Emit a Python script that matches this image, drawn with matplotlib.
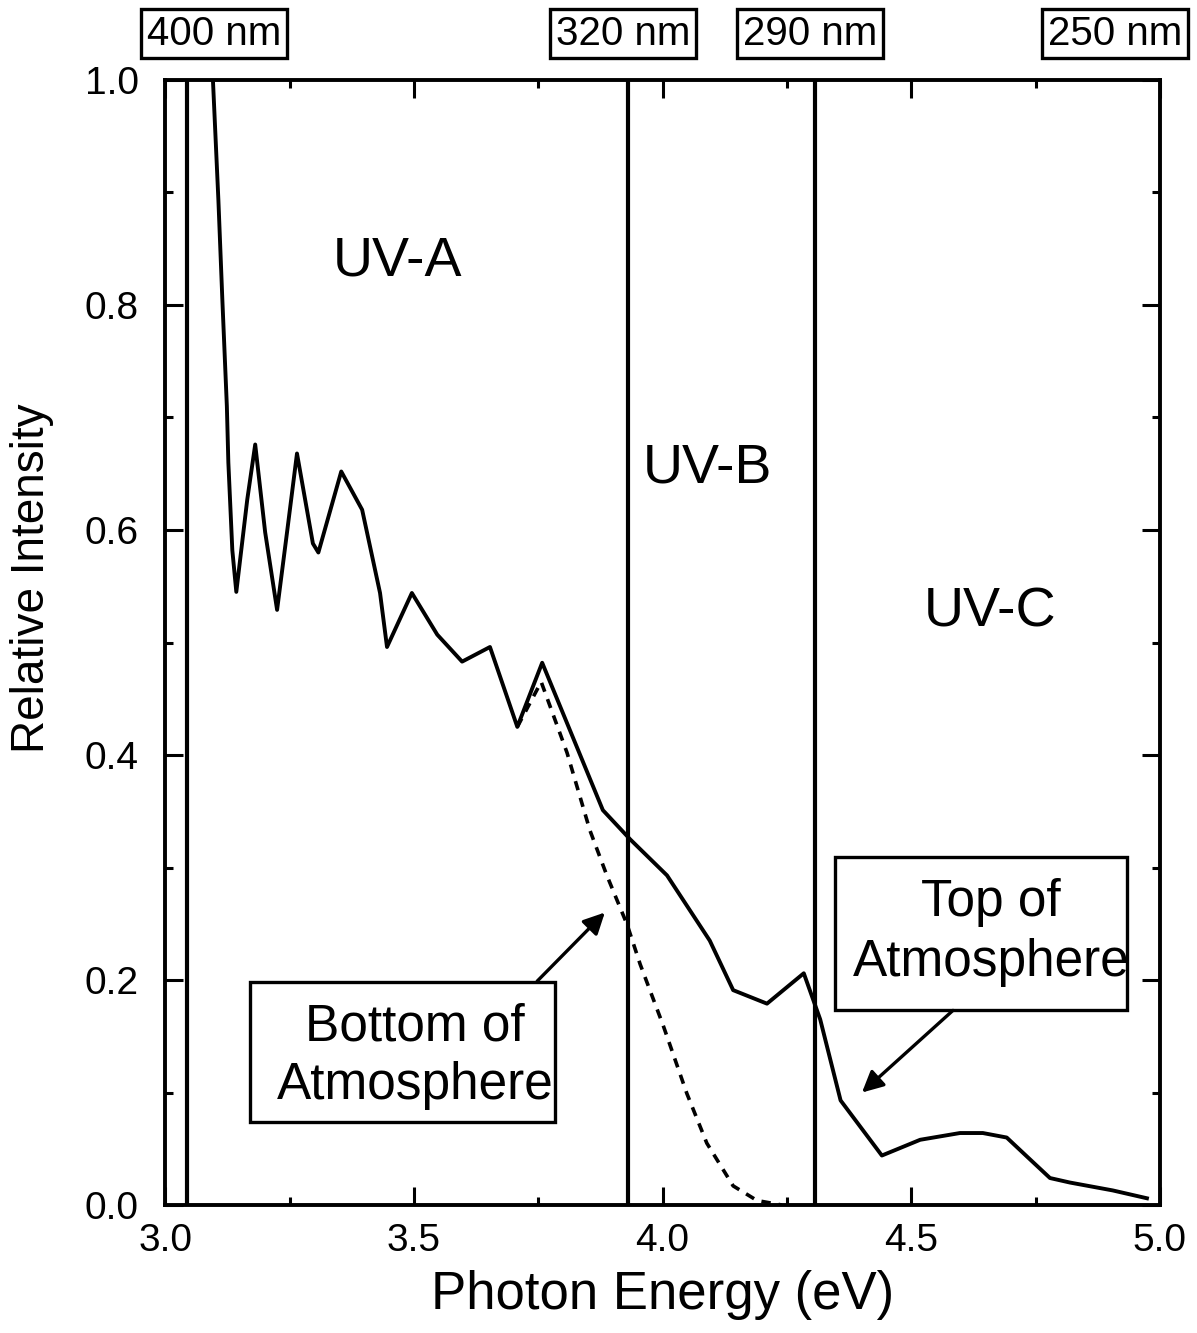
import matplotlib
matplotlib.use('Agg')
import matplotlib.pyplot as plt
from matplotlib.ticker import MultipleLocator
from matplotlib.patches import Rectangle
import numpy

plt.rcParams['font.family'] = ['Liberation Sans', 'DejaVu Sans']

# top of atmosphere spectrum (solid)
top_e = [3.096, 3.107, 3.115, 3.124, 3.127, 3.135, 3.143, 3.165, 3.181, 3.201,
         3.225, 3.245, 3.265, 3.297, 3.308, 3.354, 3.396, 3.432, 3.446, 3.496,
         3.547, 3.597, 3.653, 3.708, 3.758, 3.880, 3.935, 4.009, 4.095, 4.142,
         4.210, 4.284, 4.317, 4.358, 4.441, 4.518, 4.598, 4.644, 4.692, 4.733,
         4.779, 4.819, 4.905, 4.974]
top_i = [1.000, 0.893, 0.804, 0.710, 0.660, 0.582, 0.545, 0.627, 0.676, 0.598,
         0.529, 0.598, 0.668, 0.588, 0.580, 0.652, 0.618, 0.544, 0.496, 0.544,
         0.507, 0.483, 0.496, 0.425, 0.482, 0.351, 0.325, 0.293, 0.235, 0.191,
         0.179, 0.206, 0.165, 0.093, 0.044, 0.058, 0.064, 0.064, 0.060, 0.043,
         0.024, 0.020, 0.013, 0.006]

# bottom of atmosphere spectrum (dashed), same as top below 3.7 eV
bot_e = [3.708, 3.756, 3.808, 3.854, 3.888, 3.929, 3.955, 4.001, 4.049, 4.089,
         4.142, 4.190, 4.240]
bot_i = [0.425, 0.465, 0.402, 0.333, 0.293, 0.249, 0.214, 0.160, 0.099, 0.055,
         0.017, 0.004, 0.000]

# band edges and wavelength labels
edges = [3.044, 3.93, 4.307]
nm_pos = [3.098, 3.921, 4.297, 4.91]
nm_txt = ['400 nm', '320 nm', '290 nm', '250 nm']

fig = plt.figure(figsize=(11.97, 13.33), dpi=100)
ax = fig.add_axes([0.138, 0.096, 0.831, 0.844])

ax.plot(top_e, top_i, '-', color='black', lw=2.8)
ax.plot(bot_e, bot_i, '--', color='black', lw=2.6, dashes=(2.6, 2.2))
for e in edges:
    ax.axvline(e, color='black', lw=3)

ax.set_xlim(3.0, 5.0)
ax.set_ylim(0.0, 1.0)
ax.xaxis.set_major_locator(MultipleLocator(0.5))
ax.xaxis.set_minor_locator(MultipleLocator(0.25))
ax.yaxis.set_major_locator(MultipleLocator(0.2))
ax.yaxis.set_minor_locator(MultipleLocator(0.1))
ax.tick_params(which='both', direction='in', top=True, right=True, width=2.2)
ax.tick_params(which='major', length=13)
ax.tick_params(which='minor', length=6)
ax.tick_params(axis='x', labelsize=28, pad=13)
ax.tick_params(axis='y', labelsize=28, pad=19)
for s in ax.spines.values():
    s.set_linewidth(2.8)

ax.set_xlabel('Photon Energy (eV)', fontsize=38, labelpad=8)
ax.set_ylabel('Relative Intensity', fontsize=33)
ax.yaxis.set_label_coords(-0.112, 0.557)

ax.text(3.468, 0.839, 'UV-A', fontsize=40, ha='center', va='center')
ax.text(4.091, 0.655, 'UV-B', fontsize=40, ha='center', va='center')
ax.text(4.658, 0.527, 'UV-C', fontsize=40, ha='center', va='center')

for p, t in zip(nm_pos, nm_txt):
    ax.text(p, 1.041, t, fontsize=29, ha='center', va='center',
            transform=ax.get_xaxis_transform(), clip_on=False,
            bbox=dict(boxstyle='square,pad=0.14', fc='white', ec='black', lw=2.4))

# label boxes
ax.add_patch(Rectangle((3.171, 0.074), 0.613, 0.124, fc='white', ec='black', lw=2.4, zorder=3))
ax.add_patch(Rectangle((4.347, 0.173), 0.587, 0.136, fc='white', ec='black', lw=2.4, zorder=3))
ax.text(3.5025, 0.132, 'Bottom of\nAtmosphere', fontsize=37, ha='center', va='center',
        linespacing=1.25, zorder=4)
ax.text(4.661, 0.242, 'Top of\nAtmosphere', fontsize=37, ha='center', va='center',
        linespacing=1.3, zorder=4)

arrow = dict(arrowstyle='-|>', color='black', lw=2.4, mutation_scale=32,
             shrinkA=0, shrinkB=0)
ax.annotate('', xy=(3.884, 0.26), xytext=(3.748, 0.199), arrowprops=arrow)
ax.annotate('', xy=(4.401, 0.100), xytext=(4.584, 0.173), arrowprops=arrow)

plt.savefig('out.png', dpi=100)
